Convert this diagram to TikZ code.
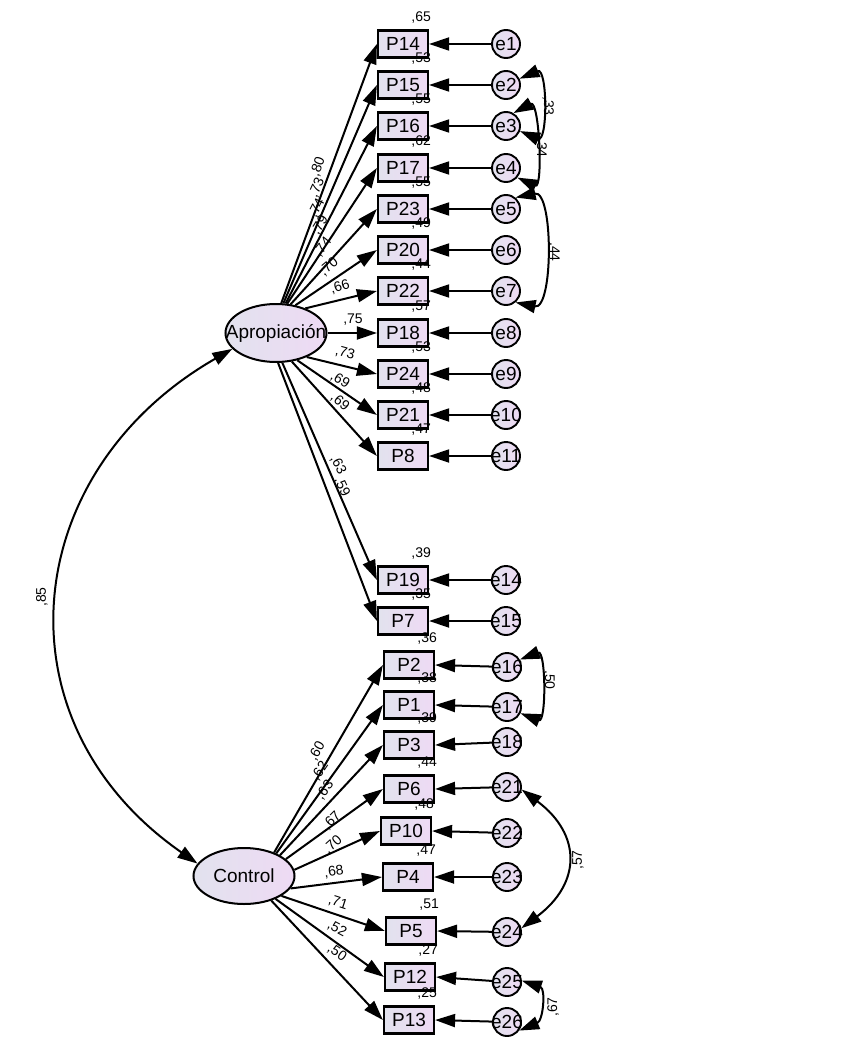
\documentclass[tikz,border=0pt]{standalone}
\usepackage{fontspec}
\setmainfont{Liberation Sans}
\usetikzlibrary{arrows.meta,shapes.geometric,calc}
\definecolor{lavL}{RGB}{226,226,238}
\definecolor{lavR}{RGB}{238,218,244}
\newcommand{\zc}[1]{\makebox[0pt]{#1}}
\begin{document}
\begin{tikzpicture}[x=1pt,y=-1pt,
  >={Triangle[length=20pt,width=13pt]},
  every node/.style={font=\fontsize{19}{20}\selectfont},
  obs/.style={draw,line width=2.2pt,rectangle,minimum width=50pt,minimum height=27pt,inner sep=0pt,left color=lavL,right color=lavR},
  err/.style={draw,line width=1.9pt,circle,minimum size=28pt,inner sep=0pt,left color=lavL,right color=lavR},
  lat/.style={draw,line width=2pt,ellipse,minimum width=101pt,minimum height=58pt,inner sep=0pt,left color=lavL,right color=lavR},
  lab/.style={font=\fontsize{14}{15}\selectfont,inner sep=0pt},
  pth/.style={->,line width=2pt},
  cov/.style={<->,line width=2pt},
]
\path[fill=white,use as bounding box] (0,0) rectangle (850,1043);

% latent variables
\node[lat] (A) at (276,333) {\zc{Apropiación}};
\node[lat,minimum height=56pt] (C) at (244,876) {\zc{Control}};

% Apropiacion indicators
\foreach \nm/\x/\y/\r/\e/\ex in {P14/403/44/65/e1/506, P15/403/85/53/e2/506, P16/403/126/55/e3/506,
  P17/403/168/62/e4/506, P23/403/209/55/e5/506, P20/403/250/49/e6/506, P22/403/291/44/e7/506,
  P18/403/333/57/e8/506, P24/403/374/53/e9/506, P21/403/415/48/e10/506, P8/403/456/47/e11/506,
  P19/403/580/39/e14/506, P7/403/621/35/e15/506} {
  \node[obs] (\nm) at (\x,\y) {\nm};
  \node[err] (\e) at (\ex,\y) {\zc{\e}};
  \node[lab,anchor=base east] (r\nm) at ([xshift=2pt,yshift=8pt]\nm.north east) {,\r};
  \draw[pth] (\e) -- (\nm.east);
}

% Control indicators
\foreach \nm/\x/\y/\r/\e/\ey in {P2/409/665/36/e16/667, P1/409/705/38/e17/707, P3/409/745/39/e18/742,
  P6/409/789/44/e21/787, P10/406/831/48/e22/833, P4/408/877/47/e23/877, P5/411/931/51/e24/932,
  P12/410/977/27/e25/982, P13/409/1020/25/e26/1022} {
  \node[obs] (\nm) at (\x,\y) {\nm};
  \node[err] (\e) at (507,\ey) {\zc{\e}};
  \node[lab,anchor=base east] (r\nm) at ([xshift=2pt,yshift=8pt]\nm.north east) {,\r};
  \draw[pth] (\e) -- (\nm.east);
}

% loadings Apropiacion
\foreach \nm/\an/\lx/\ly/\rot/\t in {P14/80/318/167/70/80, P15/76/317/188/66/73, P16/72/317/208/63/74,
  P17/69/320/225/58/79, P23/63/323/247/52/74, P20/55/329/267/40/70, P22/40/340/287/18/66,
  P18/0/353/320/0/75, P24/-38/345/353/-15/73, P21/-52/340/380/-32/69, P8/-61/340/402/-40/69,
  P19/-78/338/465/-63/63, P7/-86/342/487/-65/59} {
  \draw[pth] (A.\an) -- (\nm.west);
  \node[lab,rotate=\rot] (l\nm) at (\lx,\ly) {,\t};
}

% loadings Control
\foreach \nm/\an/\lx/\ly/\rot/\t in {P2/38/317/751/60/60, P1/35/320/771/56/62, P3/30/325/790/52/63,
  P6/22/332/821/45/67, P10/7/333/845/42/70, P4/-15/334/872/8/68, P5/-28/338/903/-18/71,
  P12/-36/337/929/-28/52, P13/-42/337/953/-35/50} {
  \draw[pth] (C.\an) -- (\nm.west);
  \node[lab,rotate=\rot] (l\nm) at (\lx,\ly) {,\t};
}

% covariances
\draw[cov] (e2.25) .. controls +(28,-12) and +(28,12) .. (e3.-20);
\node[lab,rotate=-90] (c23) at (548,106) {,33};
\draw[cov] (e3.60) .. controls +(26,-14) and +(26,12) .. (e4.-40);
\node[lab,rotate=-90] (c34) at (541,148) {,34};
\draw[cov] (e5.50) .. controls +(38,-8) and +(38,8) .. (e7.-50);
\node[lab,rotate=-90] (c57) at (554,252) {,44};
\draw[cov] (e16.30) .. controls +(26,-10) and +(26,10) .. (e17.-25);
\node[lab,rotate=-90] (c1617) at (549,680) {,50};
\draw[cov] (e21.-10) .. controls +(60,45) and +(60,-45) .. (e24.15);
\node[lab,rotate=90] (c2124) at (578,860) {,57};
\draw[cov] (e25.5) .. controls +(24,8) and +(24,-10) .. (e26.-35);
\node[lab,rotate=90] (c2526) at (553,1007) {,67};
\draw[cov] (A.200) .. controls (18,472) and (-6,722) .. (C.165);
\node[lab,rotate=90] (c85) at (42,597) {,85};
\end{tikzpicture}
\end{document}
